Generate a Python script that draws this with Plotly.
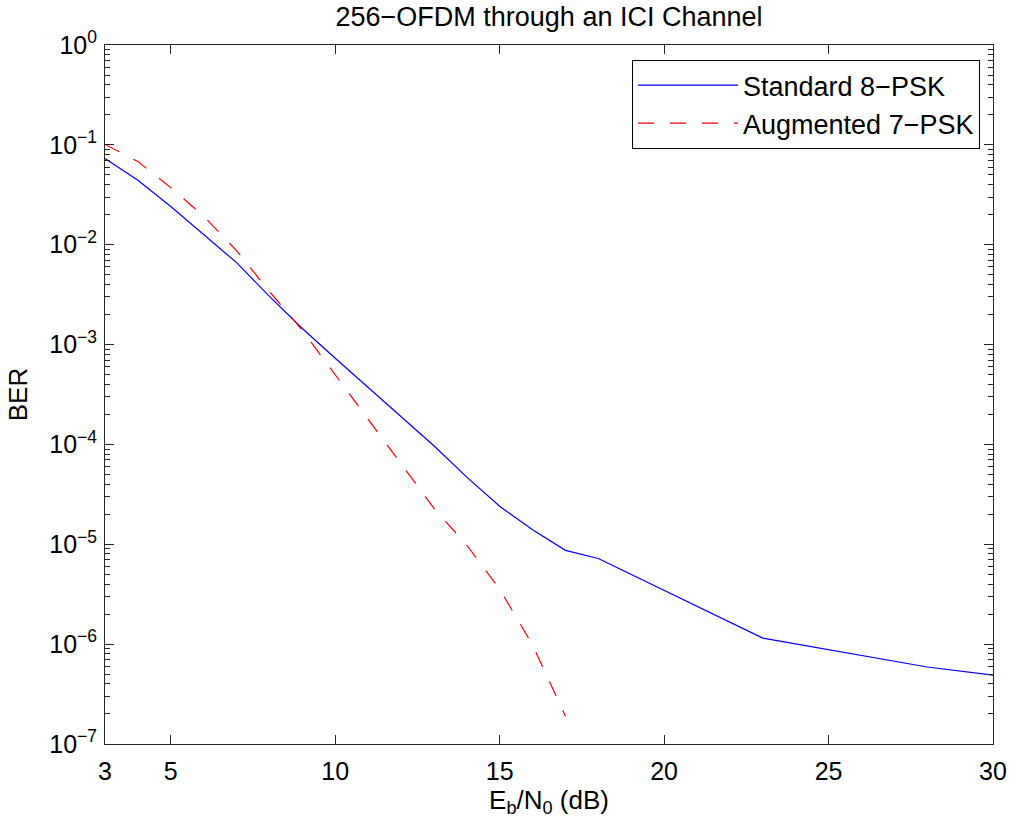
import plotly.graph_objects as go

# ---- data ----
snr_std = [3, 4, 5, 6, 7, 8, 9, 10, 11, 12, 13, 14, 15, 16, 17, 18, 23, 28, 30]
ber_std = [0.0728, 0.0442, 0.0241, 0.0126, 0.00662, 0.00304, 0.00145, 7.3e-4,
           3.71e-4, 1.9e-4, 9.7e-5, 4.7e-5, 2.4e-5, 1.40e-5, 8.7e-6, 7.2e-6,
           1.15e-6, 5.9e-7, 4.9e-7]

snr_aug = [3, 4, 5, 6, 7, 8, 9, 10, 11, 12, 13, 14, 15, 16, 17]
ber_aug = [0.101, 0.068, 0.0373, 0.0193, 0.00873, 0.0034, 0.00139, 4.96e-4,
           1.8e-4, 6.5e-5, 2.3e-5, 9.8e-6, 3.56e-6, 9.8e-7, 1.9e-7]

x_ticks = [3, 5, 10, 15, 20, 25, 30]
y_exps = [-7, -6, -5, -4, -3, -2, -1, 0]

title_text = "256\u2212OFDM through an ICI Channel"
x_label = "E<sub>b</sub>/N<sub>0</sub> (dB)"
y_label = "BER"
name_std = "Standard 8\u2212PSK"
name_aug = "Augmented 7\u2212PSK"

# ---- figure ----
FONT = "Liberation Sans, Arial, Helvetica, sans-serif"
AX = "#262626"

fig = go.Figure()
fig.add_trace(go.Scatter(x=snr_std, y=ber_std, mode="lines", name=name_std,
                         line=dict(color="#0000ff", width=1.2)))
fig.add_trace(go.Scatter(x=snr_aug, y=ber_aug, mode="lines", name=name_aug,
                         line=dict(color="#ff0000", width=1.2, dash="16px,16px")))

y_tickvals = [10.0 ** e for e in y_exps]
y_ticktext = ["10<sup>%s</sup>" % (str(e).replace("-", "\u2212")) for e in y_exps]
y_minor = [m * 10.0 ** e for e in y_exps[:-1] for m in range(2, 10)]

fig.update_layout(
    width=1012, height=826,
    margin=dict(l=105, r=19, t=45, b=82, autoexpand=False),
    paper_bgcolor="white", plot_bgcolor="white",
    font=dict(family=FONT, size=25, color="black"),
    title=dict(text=title_text, x=0.5, xref="paper", xanchor="center",
               y=1 - 17 / 826, yref="container", yanchor="middle",
               font=dict(size=27, color="black")),
    showlegend=True,
    legend=dict(x=0.9854, y=0.9785, xanchor="right", yanchor="top",
                bgcolor="white", bordercolor="black", borderwidth=1,
                font=dict(size=27, color="black"), itemwidth=100,
                tracegroupgap=0),
)

fig.update_xaxes(
    type="linear", range=[3, 30], tickmode="array", tickvals=x_ticks,
    ticktext=[str(v) for v in x_ticks], automargin=False,
    ticks="inside", ticklen=9, tickwidth=1, tickcolor=AX,
    showline=True, linecolor=AX, linewidth=1, mirror="ticks",
    showgrid=False, zeroline=False, ticklabelstandoff=5,
    tickfont=dict(size=25, color="black"),
    title=dict(text=x_label, font=dict(size=26, color="black"), standoff=4),
)
fig.update_yaxes(
    type="log", range=[-7, 0], tickmode="array", tickvals=y_tickvals,
    ticktext=y_ticktext, automargin=False,
    ticks="inside", ticklen=9, tickwidth=1, tickcolor=AX,
    minor=dict(tickmode="array", tickvals=y_minor, ticks="inside", ticklen=5,
               tickwidth=1, tickcolor=AX, showgrid=False),
    showline=True, linecolor=AX, linewidth=1, mirror="ticks",
    showgrid=False, zeroline=False, ticklabelstandoff=2,
    tickfont=dict(size=25, color="black"),
    title=dict(text=y_label, font=dict(size=26, color="black"), standoff=14),
)

fig.write_html("out.html")
